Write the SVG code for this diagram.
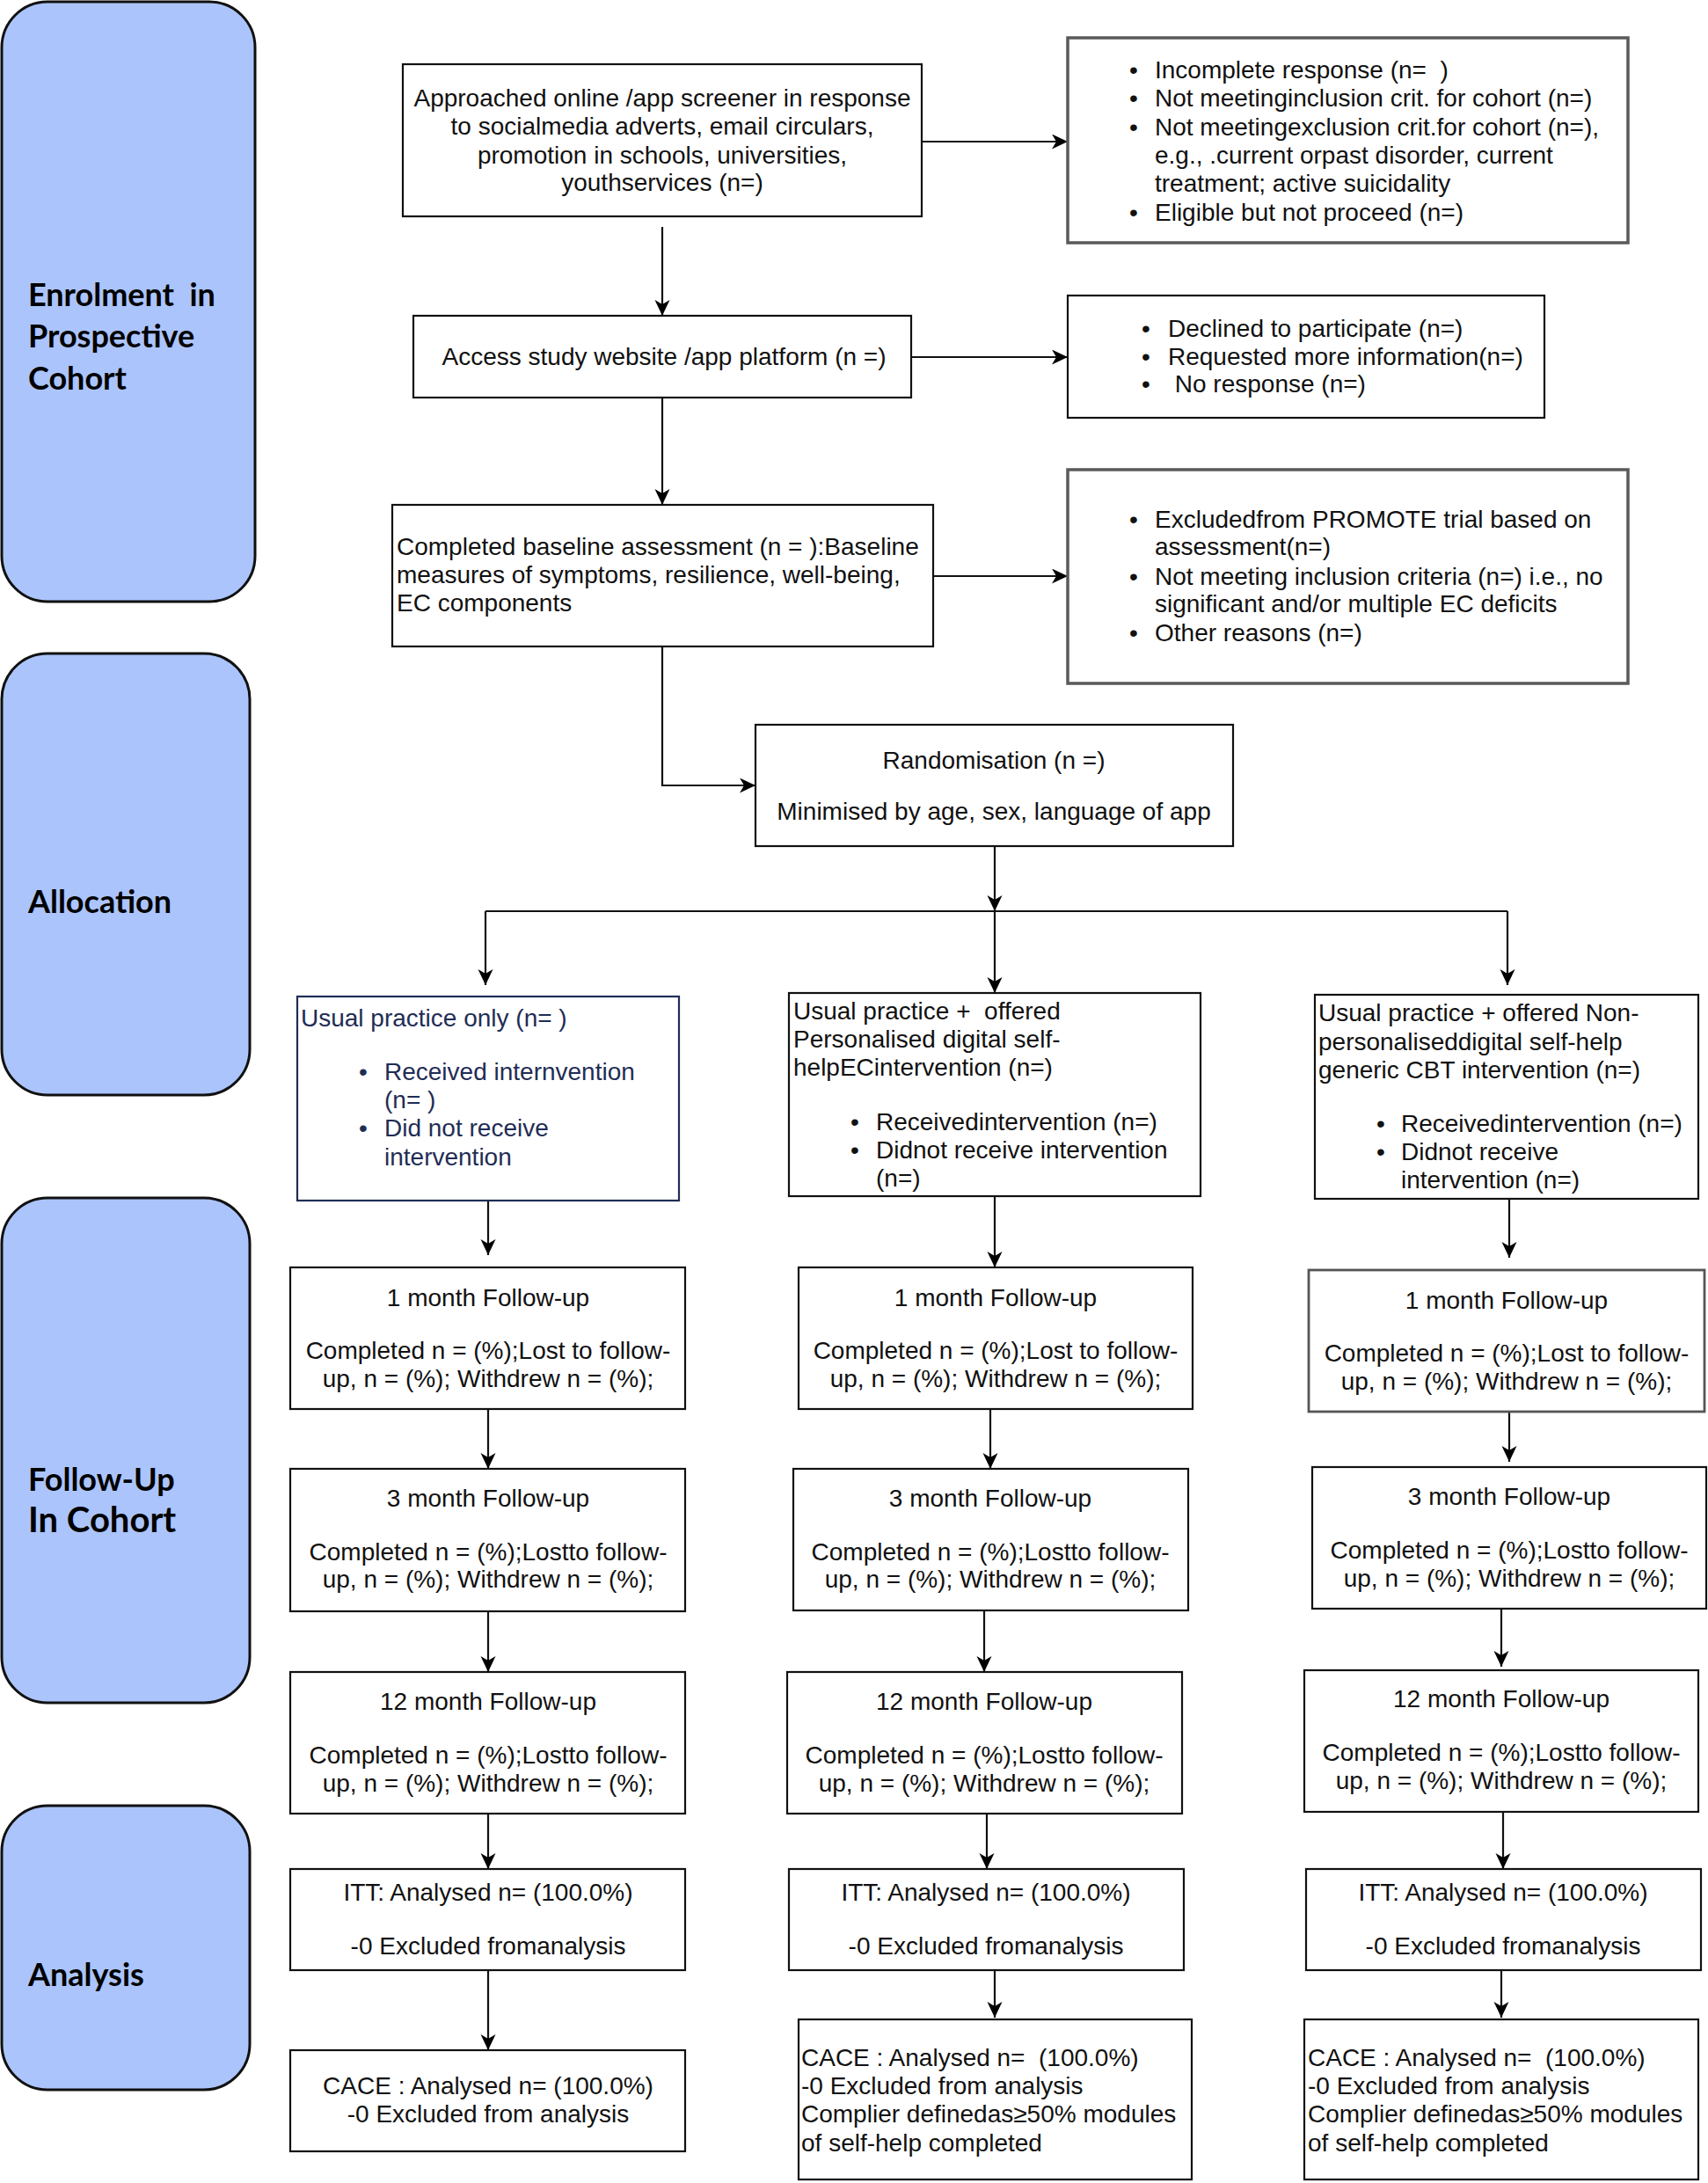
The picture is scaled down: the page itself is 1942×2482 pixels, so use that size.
<svg xmlns="http://www.w3.org/2000/svg" width="1942" height="2482" viewBox="0 0 1942 2482">
<defs>
<marker id="arr" markerUnits="userSpaceOnUse" markerWidth="19" markerHeight="18" refX="18" refY="8.5" orient="auto"><path d="M0,0 L18,8.5 L0,17 L5,8.5 z" fill="#000"/></marker>
<style>
text{white-space:pre}
.panel{fill:#abc4fb;stroke:#111;stroke-width:3}
.lbl{font-family:Lato,"Open Sans",sans-serif;font-weight:bold;font-size:36px;fill:#000}
.box{fill:#fff;stroke:#111;stroke-width:2.2}
.gbox{fill:#fff;stroke:#5a5a5a;stroke-width:3.5}
.t{font-family:"Liberation Sans",Arial,sans-serif;font-size:28px;fill:#111}
.c{text-anchor:middle}
.nv{fill:#1f2d55}
.con{fill:none;stroke:#111;stroke-width:2.2}
</style>
</defs>

<g id="phase-enrolment"><rect class="panel" x="2" y="2" width="288" height="682" rx="52"/>
<text class="lbl" x="32" y="348">Enrolment  in</text><text class="lbl" x="32" y="395">Prospective</text><text class="lbl" x="32" y="443">Cohort</text></g>
<g id="phase-allocation"><rect class="panel" x="2" y="743" width="282" height="502" rx="52"/>
<text class="lbl" x="32" y="1038">Allocation</text></g>
<g id="phase-followup"><rect class="panel" x="2" y="1362" width="282" height="574" rx="52"/>
<text class="lbl" x="32" y="1695">Follow-Up</text><text class="lbl" x="32" y="1742" style="font-size:40px">In Cohort</text></g>
<g id="phase-analysis"><rect class="panel" x="2" y="2053" width="282" height="323" rx="52"/>
<text class="lbl" x="32" y="2258">Analysis</text></g>

<g id="connectors">
<path class="con" d="M1048,161 H1214" marker-end="url(#arr)"/>
<path class="con" d="M753,258 V359" marker-end="url(#arr)"/>
<path class="con" d="M1036,406 H1214" marker-end="url(#arr)"/>
<path class="con" d="M753,452 V574" marker-end="url(#arr)"/>
<path class="con" d="M1061,655 H1214" marker-end="url(#arr)"/>
<path class="con" d="M753,735 V893 H859" marker-end="url(#arr)"/>
<path class="con" d="M1131,962 V1036" marker-end="url(#arr)"/>
<path class="con" d="M552,1036 H1714"/>
<path class="con" d="M552,1036 V1120" marker-end="url(#arr)"/>
<path class="con" d="M1131,1036 V1129" marker-end="url(#arr)"/>
<path class="con" d="M1714,1036 V1120" marker-end="url(#arr)"/>
<path class="con" d="M555,1365 V1427" marker-end="url(#arr)"/>
<path class="con" d="M1131,1360 V1441" marker-end="url(#arr)"/>
<path class="con" d="M1716,1363 V1430" marker-end="url(#arr)"/>
<path class="con" d="M555,1602 V1670" marker-end="url(#arr)"/>
<path class="con" d="M1126,1602 V1670" marker-end="url(#arr)"/>
<path class="con" d="M1716,1605 V1662" marker-end="url(#arr)"/>
<path class="con" d="M555,1832 V1901" marker-end="url(#arr)"/>
<path class="con" d="M1119,1831 V1901" marker-end="url(#arr)"/>
<path class="con" d="M1707,1829 V1895" marker-end="url(#arr)"/>
<path class="con" d="M555,2062 V2125" marker-end="url(#arr)"/>
<path class="con" d="M1122,2062 V2125" marker-end="url(#arr)"/>
<path class="con" d="M1709,2060 V2125" marker-end="url(#arr)"/>
<path class="con" d="M555,2240 V2331" marker-end="url(#arr)"/>
<path class="con" d="M1131,2240 V2294" marker-end="url(#arr)"/>
<path class="con" d="M1707,2240 V2294" marker-end="url(#arr)"/>
</g>

<g id="n-approached"><rect class="box" x="458" y="73" width="590" height="173"/>
<text class="t c" x="753" y="121">Approached online /app screener in response</text>
<text class="t c" x="753" y="153">to socialmedia adverts, email circulars,</text>
<text class="t c" x="753" y="186">promotion in schools, universities,</text>
<text class="t c" x="753" y="217">youthservices (n=)</text></g>

<g id="n-excl1"><rect class="gbox" x="1214" y="43" width="637" height="233"/>
<text class="t" x="1284" y="89">•</text><text class="t" x="1313" y="89">Incomplete response (n=  )</text>
<text class="t" x="1284" y="121">•</text><text class="t" x="1313" y="121">Not meetinginclusion crit. for cohort (n=)</text>
<text class="t" x="1284" y="154">•</text><text class="t" x="1313" y="154">Not meetingexclusion crit.for cohort (n=),</text>
<text class="t" x="1313" y="186">e.g., .current orpast disorder, current</text>
<text class="t" x="1313" y="218">treatment; active suicidality</text>
<text class="t" x="1284" y="251">•</text><text class="t" x="1313" y="251">Eligible but not proceed (n=)</text></g>

<g id="n-access"><rect class="box" x="470" y="359" width="566" height="93"/>
<text class="t c" x="755" y="415">Access study website /app platform (n =)</text></g>

<g id="n-excl2"><rect class="box" x="1214" y="336" width="542" height="139"/>
<text class="t" x="1298" y="383">•</text><text class="t" x="1328" y="383">Declined to participate (n=)</text>
<text class="t" x="1298" y="415">•</text><text class="t" x="1328" y="415">Requested more information(n=)</text>
<text class="t" x="1298" y="446">•</text><text class="t" x="1328" y="446"> No response (n=)</text></g>

<g id="n-baseline"><rect class="box" x="446" y="574" width="615" height="161"/>
<text class="t" x="451" y="631">Completed baseline assessment (n = ):Baseline</text>
<text class="t" x="451" y="663">measures of symptoms, resilience, well-being,</text>
<text class="t" x="451" y="695">EC components</text></g>

<g id="n-excl3"><rect class="gbox" x="1214" y="534" width="637" height="243"/>
<text class="t" x="1284" y="600">•</text><text class="t" x="1313" y="600">Excludedfrom PROMOTE trial based on</text>
<text class="t" x="1313" y="631">assessment(n=)</text>
<text class="t" x="1284" y="665">•</text><text class="t" x="1313" y="665">Not meeting inclusion criteria (n=) i.e., no</text>
<text class="t" x="1313" y="696">significant and/or multiple EC deficits</text>
<text class="t" x="1284" y="729">•</text><text class="t" x="1313" y="729">Other reasons (n=)</text></g>

<g id="n-random"><rect class="box" x="859" y="824" width="543" height="138"/>
<text class="t c" x="1130" y="874">Randomisation (n =)</text>
<text class="t c" x="1130" y="932">Minimised by age, sex, language of app</text></g>

<g id="n-arm1"><rect class="box" x="338" y="1133" width="434" height="232" style="stroke:#1f2d55"/>
<text class="t nv" x="342" y="1167">Usual practice only (n= )</text>
<text class="t nv" x="408" y="1228">•</text><text class="t nv" x="437" y="1228">Received internvention</text>
<text class="t nv" x="437" y="1260">(n= )</text>
<text class="t nv" x="408" y="1292">•</text><text class="t nv" x="437" y="1292">Did not receive</text>
<text class="t nv" x="437" y="1325">intervention</text></g>

<g id="n-arm2"><rect class="box" x="897" y="1129" width="468" height="231"/>
<text class="t" x="902" y="1159">Usual practice +  offered</text>
<text class="t" x="902" y="1191">Personalised digital self-</text>
<text class="t" x="902" y="1223">helpECintervention (n=)</text>
<text class="t" x="967" y="1285">•</text><text class="t" x="996" y="1285">Receivedintervention (n=)</text>
<text class="t" x="967" y="1317">•</text><text class="t" x="996" y="1317">Didnot receive intervention</text>
<text class="t" x="996" y="1349">(n=)</text></g>

<g id="n-arm3"><rect class="box" x="1495" y="1131" width="436" height="232"/>
<text class="t" x="1499" y="1161">Usual practice + offered Non-</text>
<text class="t" x="1499" y="1194">personaliseddigital self-help</text>
<text class="t" x="1499" y="1226">generic CBT intervention (n=)</text>
<text class="t" x="1565" y="1287">•</text><text class="t" x="1593" y="1287">Receivedintervention (n=)</text>
<text class="t" x="1565" y="1319">•</text><text class="t" x="1593" y="1319">Didnot receive</text>
<text class="t" x="1593" y="1351">intervention (n=)</text></g>

<g id="n-fu1-a"><rect class="box" x="330" y="1441" width="449" height="161"/>
<text class="t c" x="555" y="1485">1 month Follow-up</text>
<text class="t c" x="555" y="1545">Completed n = (%);Lost to follow-</text>
<text class="t c" x="555" y="1577">up, n = (%); Withdrew n = (%);</text></g>
<g id="n-fu1-b"><rect class="box" x="908" y="1441" width="448" height="161"/>
<text class="t c" x="1132" y="1485">1 month Follow-up</text>
<text class="t c" x="1132" y="1545">Completed n = (%);Lost to follow-</text>
<text class="t c" x="1132" y="1577">up, n = (%); Withdrew n = (%);</text></g>
<g id="n-fu1-c"><rect class="box" x="1488" y="1444" width="450" height="161" style="stroke:#555;stroke-width:2.8"/>
<text class="t c" x="1713" y="1488">1 month Follow-up</text>
<text class="t c" x="1713" y="1548">Completed n = (%);Lost to follow-</text>
<text class="t c" x="1713" y="1580">up, n = (%); Withdrew n = (%);</text></g>

<g id="n-fu3-a"><rect class="box" x="330" y="1670" width="449" height="162"/>
<text class="t c" x="555" y="1713">3 month Follow-up</text>
<text class="t c" x="555" y="1774">Completed n = (%);Lostto follow-</text>
<text class="t c" x="555" y="1805">up, n = (%); Withdrew n = (%);</text></g>
<g id="n-fu3-b"><rect class="box" x="902" y="1670" width="449" height="161"/>
<text class="t c" x="1126" y="1713">3 month Follow-up</text>
<text class="t c" x="1126" y="1774">Completed n = (%);Lostto follow-</text>
<text class="t c" x="1126" y="1805">up, n = (%); Withdrew n = (%);</text></g>
<g id="n-fu3-c"><rect class="box" x="1492" y="1668" width="448" height="161"/>
<text class="t c" x="1716" y="1711">3 month Follow-up</text>
<text class="t c" x="1716" y="1772">Completed n = (%);Lostto follow-</text>
<text class="t c" x="1716" y="1804">up, n = (%); Withdrew n = (%);</text></g>

<g id="n-fu12-a"><rect class="box" x="330" y="1901" width="449" height="161"/>
<text class="t c" x="555" y="1944">12 month Follow-up</text>
<text class="t c" x="555" y="2005">Completed n = (%);Lostto follow-</text>
<text class="t c" x="555" y="2037">up, n = (%); Withdrew n = (%);</text></g>
<g id="n-fu12-b"><rect class="box" x="895" y="1901" width="449" height="161"/>
<text class="t c" x="1119" y="1944">12 month Follow-up</text>
<text class="t c" x="1119" y="2005">Completed n = (%);Lostto follow-</text>
<text class="t c" x="1119" y="2037">up, n = (%); Withdrew n = (%);</text></g>
<g id="n-fu12-c"><rect class="box" x="1483" y="1899" width="448" height="161"/>
<text class="t c" x="1707" y="1941">12 month Follow-up</text>
<text class="t c" x="1707" y="2002">Completed n = (%);Lostto follow-</text>
<text class="t c" x="1707" y="2034">up, n = (%); Withdrew n = (%);</text></g>

<g id="n-itt-a"><rect class="box" x="330" y="2125" width="449" height="115"/>
<text class="t c" x="555" y="2161">ITT: Analysed n= (100.0%)</text>
<text class="t c" x="555" y="2222">-0 Excluded fromanalysis</text></g>
<g id="n-itt-b"><rect class="box" x="897" y="2125" width="449" height="115"/>
<text class="t c" x="1121" y="2161">ITT: Analysed n= (100.0%)</text>
<text class="t c" x="1121" y="2222">-0 Excluded fromanalysis</text></g>
<g id="n-itt-c"><rect class="box" x="1485" y="2125" width="449" height="115"/>
<text class="t c" x="1709" y="2161">ITT: Analysed n= (100.0%)</text>
<text class="t c" x="1709" y="2222">-0 Excluded fromanalysis</text></g>

<g id="n-cace-a"><rect class="box" x="330" y="2331" width="449" height="115"/>
<text class="t c" x="555" y="2381">CACE : Analysed n= (100.0%)</text>
<text class="t c" x="555" y="2413">-0 Excluded from analysis</text></g>
<g id="n-cace-b"><rect class="box" x="908" y="2296" width="447" height="182"/>
<text class="t" x="911" y="2349">CACE : Analysed n=  (100.0%)</text>
<text class="t" x="911" y="2381">-0 Excluded from analysis</text>
<text class="t" x="911" y="2413">Complier definedas≥50% modules</text>
<text class="t" x="911" y="2446">of self-help completed</text></g>
<g id="n-cace-c"><rect class="box" x="1483" y="2296" width="448" height="182"/>
<text class="t" x="1487" y="2349">CACE : Analysed n=  (100.0%)</text>
<text class="t" x="1487" y="2381">-0 Excluded from analysis</text>
<text class="t" x="1487" y="2413">Complier definedas≥50% modules</text>
<text class="t" x="1487" y="2446">of self-help completed</text></g>
</svg>
